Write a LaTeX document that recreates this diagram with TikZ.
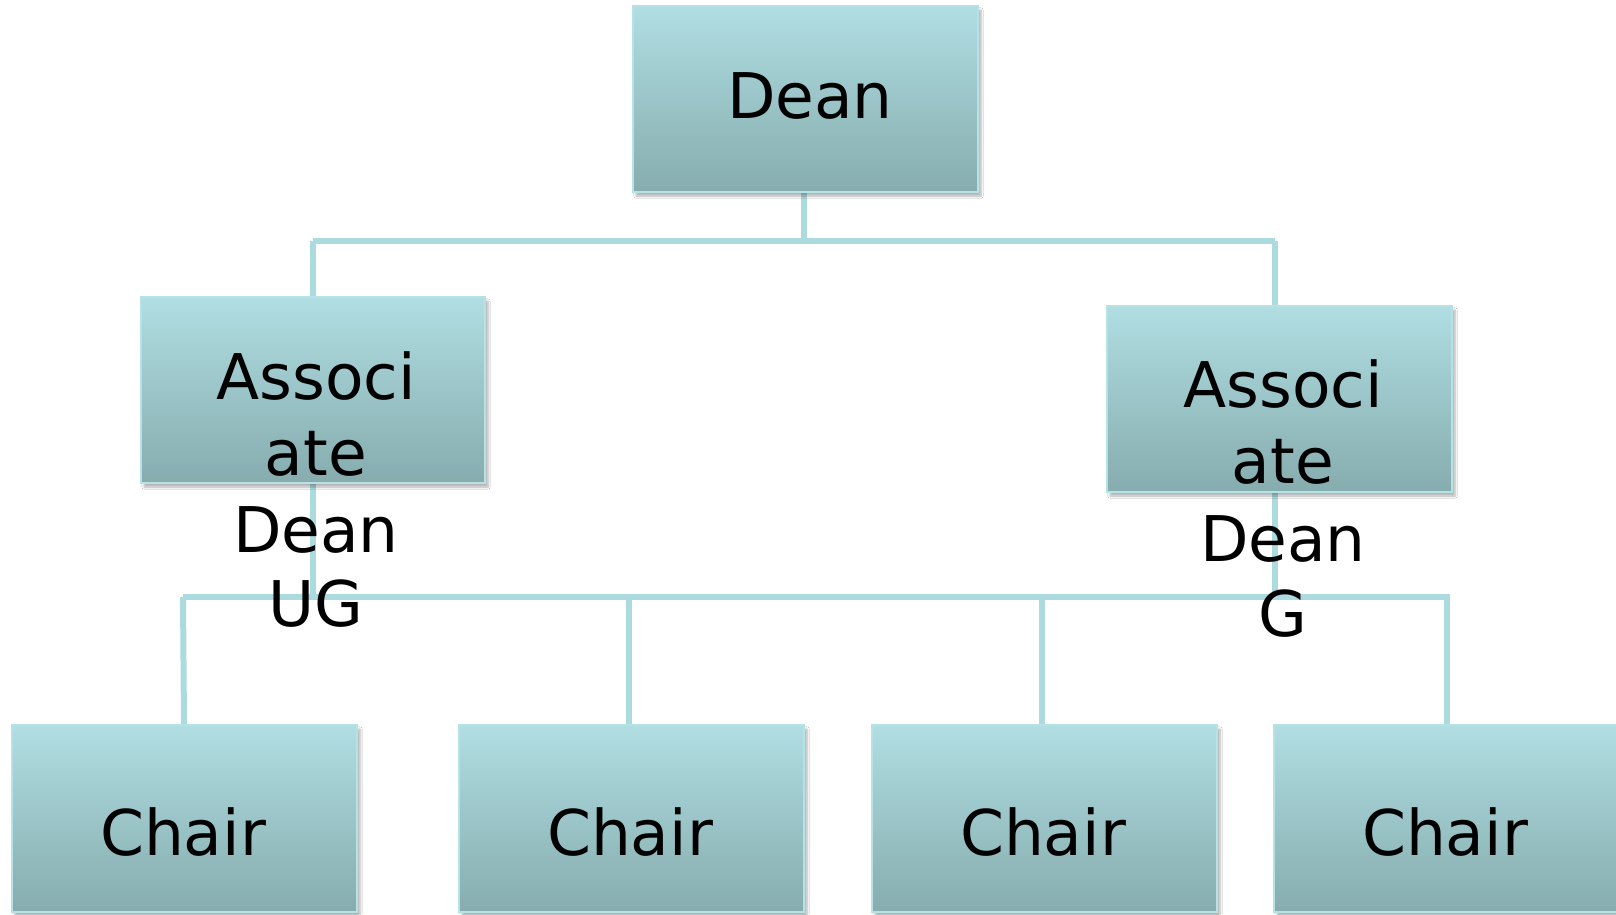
\documentclass[tikz,border=0pt]{standalone}
\usepackage{fontspec}
\setmainfont{DejaVu Sans}
\usetikzlibrary{shadows.blur}
\definecolor{boxtop}{RGB}{176,222,226}
\definecolor{boxbot}{RGB}{134,172,174}
\definecolor{boxedge}{RGB}{182,226,230}
\definecolor{linkc}{RGB}{172,219,223}
\tikzset{
  orgbox/.style={draw=boxedge, line width=2pt, top color=boxtop, bottom color=boxbot,
    minimum width=345pt, minimum height=186pt, inner sep=0pt,
    blur shadow={shadow xshift=3pt, shadow yshift=-4pt, shadow blur steps=6, shadow opacity=30}},
  lbl/.style={anchor=base, inner sep=0pt, text=black, font=\fontsize{63}{75}\selectfont},
  link/.style={draw=linkc, line width=6pt},
}
\begin{document}
\begin{tikzpicture}[x=1pt,y=-1pt]
\clip (0,0) rectangle (1616,914);
\fill[white] (0,0) rectangle (1616,914);
% box centres
\path (805.5,99) coordinate (pdean)
      (313,390) coordinate (pug)
      (1279.5,399) coordinate (pg)
      (184.5,818.5) coordinate (pc1)
      (631.5,818.5) coordinate (pc2)
      (1044.5,818.5) coordinate (pc3)
      (1446.5,818.5) coordinate (pc4);
% bus coordinates
\coordinate (tL) at (313,241);
\coordinate (tR) at (1275,241);
\coordinate (tM) at (804,241);
\coordinate (bL) at (183,597);
\coordinate (bR) at (1450,597);
% connectors
\draw[link] (804,192) -- (tM);
\draw[link] (tL) -- (tR);
\draw[link] (tL) -- (313,297);
\draw[link] (tR) -- (1275,306);
\draw[link] (313,483) -- (313,597);
\draw[link] (1275,492) -- (1275,597);
\draw[link] (bL) -- (bR);
\draw[link] (bL) -- (184,725);
\draw[link] (629,597) -- (629,725);
\draw[link] (1042,597) -- (1042,725);
\draw[link] (1447,597) -- (1447,725);
% boxes
\node[orgbox] (dean) at (pdean) {};
\node[orgbox, minimum width=344pt] (ug) at (pug) {};
\node[orgbox] (g) at (pg) {};
\node[orgbox, minimum height=187pt] (c1) at (pc1) {};
\node[orgbox, minimum height=187pt] (c2) at (pc2) {};
\node[orgbox, minimum height=187pt] (c3) at (pc3) {};
\node[orgbox, minimum height=187pt] (c4) at (pc4) {};
% texts
\node[lbl] (tdean) at (810,118) {Dean};
\node[lbl] (ug1) at (316,399) {Associ};
\node[lbl] (ug2) at (316,475) {ate};
\node[lbl] (ug3) at (316,552) {Dean};
\node[lbl] (ug4) at (316,626) {UG};
\node[lbl] (g1) at (1283,407) {Associ};
\node[lbl] (g2) at (1283,483) {ate};
\node[lbl] (g3) at (1283,561) {Dean};
\node[lbl] (g4) at (1283,636) {G};
\node[lbl] (tc1) at (183,855) {Chair};
\node[lbl] (tc2) at (630,855) {Chair};
\node[lbl] (tc3) at (1043,855) {Chair};
\node[lbl] (tc4) at (1445,855) {Chair};
\end{tikzpicture}
\end{document}
